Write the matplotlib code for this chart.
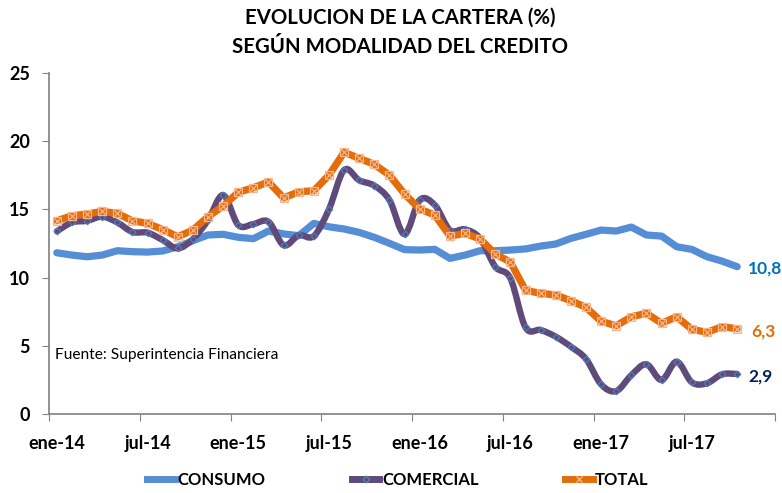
import numpy as np
import matplotlib
matplotlib.use("Agg")
import matplotlib.pyplot as plt
from matplotlib.path import Path
from matplotlib.patches import PathPatch
from matplotlib.lines import Line2D

plt.rcParams['font.family'] = ['Lato', 'DejaVu Sans']

# monthly data, ene-14 .. oct-17
months = np.arange(46)
tick_labels = ["ene-14", "jul-14", "ene-15", "jul-15", "ene-16", "jul-16", "ene-17", "jul-17"]

consumo = [11.82, 11.65, 11.53, 11.65, 11.97, 11.90, 11.87, 11.95, 12.26, 12.70,
           13.12, 13.17, 12.95, 12.85, 13.41, 13.20, 13.07, 13.97, 13.72, 13.56,
           13.31, 12.95, 12.51, 12.05, 12.02, 12.07, 11.41, 11.65, 11.97, 11.97,
           12.02, 12.10, 12.31, 12.46, 12.87, 13.17, 13.48, 13.41, 13.70, 13.12,
           13.04, 12.26, 12.07, 11.53, 11.21, 10.80]
comercial = [13.39, 14.04, 14.16, 14.46, 14.04, 13.34, 13.29, 12.75, 12.14, 12.82,
             14.21, 16.04, 13.85, 13.92, 14.09, 12.37, 13.09, 13.04, 15.00, 17.87,
             17.12, 16.73, 15.68, 13.18, 15.68, 15.31, 13.48, 13.53, 12.87, 10.80,
             9.95, 6.36, 6.17, 5.68, 4.95, 4.05, 2.19, 1.70, 2.87, 3.66,
             2.51, 3.85, 2.34, 2.27, 2.93, 2.95]
total = [14.16, 14.53, 14.65, 14.85, 14.70, 14.16, 13.97, 13.52, 12.99, 13.48,
         14.46, 15.24, 16.24, 16.58, 17.00, 15.83, 16.28, 16.36, 17.50, 19.17,
         18.73, 18.29, 17.50, 16.12, 15.02, 14.58, 13.04, 13.24, 12.82, 11.73,
         11.14, 9.07, 8.85, 8.73, 8.31, 7.83, 6.80, 6.48, 7.14, 7.39,
         6.66, 7.14, 6.22, 6.00, 6.41, 6.26]
end_labels = ["10,8", "2,9", "6,3"]

c_cons = '#558ED5'
c_com = '#604A7B'
c_tot = '#E46C0A'
c_mk_com = '#4F81BD'
c_mk_tot = '#F9B68A'


def smooth_path(x, y):
    # excel-like smoothed line: cubic bezier through the points
    pts = np.column_stack([np.asarray(x, float), np.asarray(y, float)])
    n = len(pts)
    verts = [pts[0]]
    codes = [Path.MOVETO]
    for i in range(n - 1):
        p0 = pts[i - 1] if i > 0 else pts[i]
        p1 = pts[i]
        p2 = pts[i + 1]
        p3 = pts[i + 2] if i + 2 < n else pts[i + 1]
        verts += [p1 + (p2 - p0) / 6, p2 - (p3 - p1) / 6, p2]
        codes += [Path.CURVE4] * 3
    return Path(verts, codes)


fig = plt.figure(figsize=(7.82, 4.93), dpi=100)
ax = fig.add_axes([0.063, 0.1596, 0.928, 0.6931])

ax.plot(months, consumo, color=c_cons, lw=5.2, solid_capstyle='round', zorder=2)
ax.add_patch(PathPatch(smooth_path(months, comercial), fc='none', ec=c_com, lw=4.6,
                       capstyle='round', zorder=3))
ax.plot(months, comercial, ls='none', marker='D', ms=3.4, mfc='none', mec=c_mk_com,
        mew=0.8, zorder=4)
ax.plot(months, total, color=c_tot, lw=5.2, solid_capstyle='round', zorder=5)
ax.plot(months, total, ls='none', marker='s', ms=5.5, mfc='none', mec=c_mk_tot, mew=0.9, zorder=6)
ax.plot(months, total, ls='none', marker='x', ms=5, mec=c_mk_tot, mew=0.9, zorder=6)

ax.set_xlim(-0.5, 47.5)
ax.set_ylim(0, 25)
ax.set_yticks(range(0, 26, 5))
ax.set_xticks(np.arange(-0.5, 48, 6))
ax.set_xticklabels([])
ax.set_xticks(np.arange(0, 46, 6), minor=True)
ax.set_xticklabels(tick_labels, minor=True)
ax.tick_params(axis='x', which='minor', length=0, pad=15, labelsize=13)
ax.tick_params(axis='x', which='major', length=5, color='#808080')
ax.tick_params(axis='y', length=5, color='#808080', pad=9, labelsize=13)
for lab in ax.get_xticklabels(minor=True) + ax.get_yticklabels():
    lab.set_fontweight('bold')

for s in ['top', 'right']:
    ax.spines[s].set_visible(False)
for s in ['left', 'bottom']:
    ax.spines[s].set_color('#808080')
    ax.spines[s].set_linewidth(1.2)

ax.annotate(end_labels[0], (months[-1], consumo[-1]), xytext=(8, -1), textcoords='offset points',
            color='#0070C0', fontsize=12.5, fontweight='bold', va='center')
ax.annotate(end_labels[1], (months[-1], comercial[-1]), xytext=(8, -2), textcoords='offset points',
            color='#002060', fontsize=12.5, fontweight='bold', va='center')
ax.annotate(end_labels[2], (months[-1], total[-1]), xytext=(10, -2), textcoords='offset points',
            color=c_tot, fontsize=12.5, fontweight='bold', va='center')

ax.text(0.008, 0.175, "Fuente: Superintencia Financiera", transform=ax.transAxes,
        fontsize=11.2, va='center')

fig.text(0.512, 0.965, "EVOLUCION DE LA CARTERA (%)", ha='center', va='center',
         fontsize=14.7, fontweight='bold')
fig.text(0.512, 0.905, "SEGÚN MODALIDAD DEL CREDITO", ha='center', va='center',
         fontsize=14.7, fontweight='bold')

handles = [Line2D([], [], color=c_cons, lw=5),
           Line2D([], [], color=c_com, lw=5, marker='D', ms=3.4, mfc='none', mec=c_mk_com),
           Line2D([], [], color=c_tot, lw=5, marker='x', ms=5, mec=c_mk_tot)]
fig.legend(handles, ["CONSUMO", "COMERCIAL", "TOTAL"], loc='center',
           bbox_to_anchor=(0.509, 0.026), ncol=3, frameon=False,
           handlelength=1.65, handletextpad=0.15, columnspacing=5.2,
           prop={'weight': 'bold', 'size': 12})

fig.savefig("out.png", dpi=100)
